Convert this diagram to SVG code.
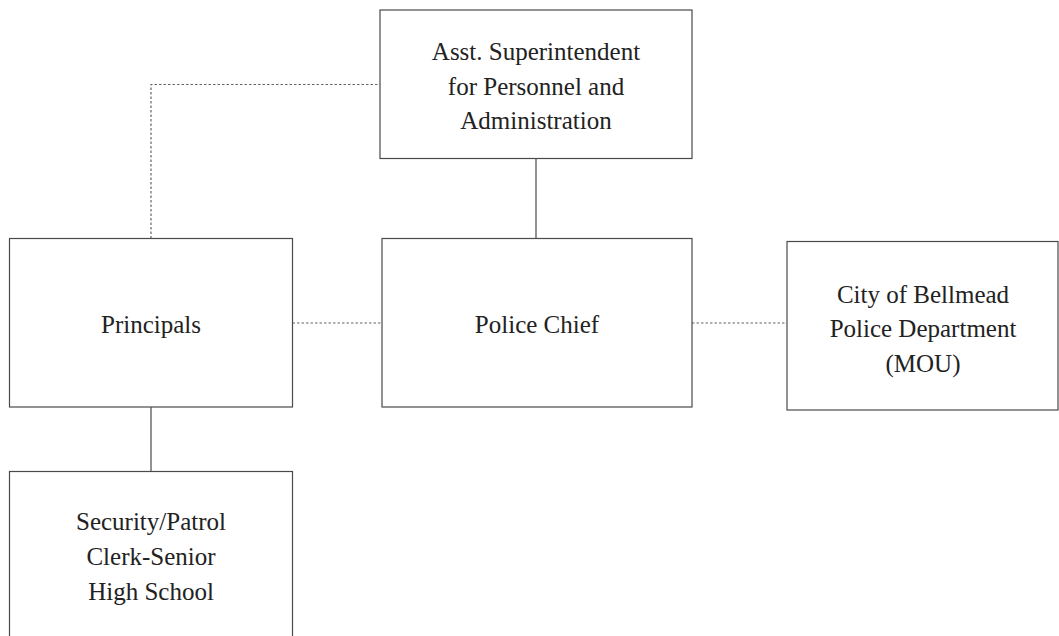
<svg xmlns="http://www.w3.org/2000/svg" width="1059" height="636" viewBox="0 0 1059 636">
  <style>
    .box { fill: #ffffff; stroke: #4a4a4a; stroke-width: 1.2; }
    .solid { fill: none; stroke: #4a4a4a; stroke-width: 1.2; }
    .dotted { fill: none; stroke: #666666; stroke-width: 1.2; stroke-dasharray: 2.5 2; }
    text { font-family: "Liberation Serif", "Times New Roman", serif; font-size: 25px; fill: #222222; text-anchor: middle; }
  </style>
  <rect width="1059" height="636" fill="#ffffff"/>

  <g id="connectors">
    <path class="dotted" d="M151 238.5 V84.5 H380"/>
    <line class="solid" x1="536" y1="158.5" x2="536" y2="238.5"/>
    <line class="dotted" x1="292.5" y1="323" x2="382" y2="323"/>
    <line class="dotted" x1="692" y1="323" x2="787" y2="323"/>
    <line class="solid" x1="151" y1="407" x2="151" y2="471.5"/>
  </g>

  <g id="asst-superintendent">
    <rect class="box" x="380" y="10" width="312" height="148.5"/>
    <text x="536" y="60">Asst. Superintendent</text>
    <text x="536" y="94.5">for Personnel and</text>
    <text x="536" y="129">Administration</text>
  </g>

  <g id="principals">
    <rect class="box" x="9.5" y="238.5" width="283" height="168.5"/>
    <text x="151" y="333">Principals</text>
  </g>

  <g id="police-chief">
    <rect class="box" x="382" y="238.5" width="310" height="168.5"/>
    <text x="537" y="333">Police Chief</text>
  </g>

  <g id="bellmead-pd">
    <rect class="box" x="787" y="241.5" width="271" height="168.5"/>
    <text x="923" y="302.5">City of Bellmead</text>
    <text x="923" y="337">Police Department</text>
    <text x="923" y="371.5">(MOU)</text>
  </g>

  <g id="security-clerk">
    <rect class="box" x="9.5" y="471.5" width="283" height="180"/>
    <text x="151" y="530">Security/Patrol</text>
    <text x="151" y="565">Clerk-Senior</text>
    <text x="151" y="600">High School</text>
  </g>
</svg>
